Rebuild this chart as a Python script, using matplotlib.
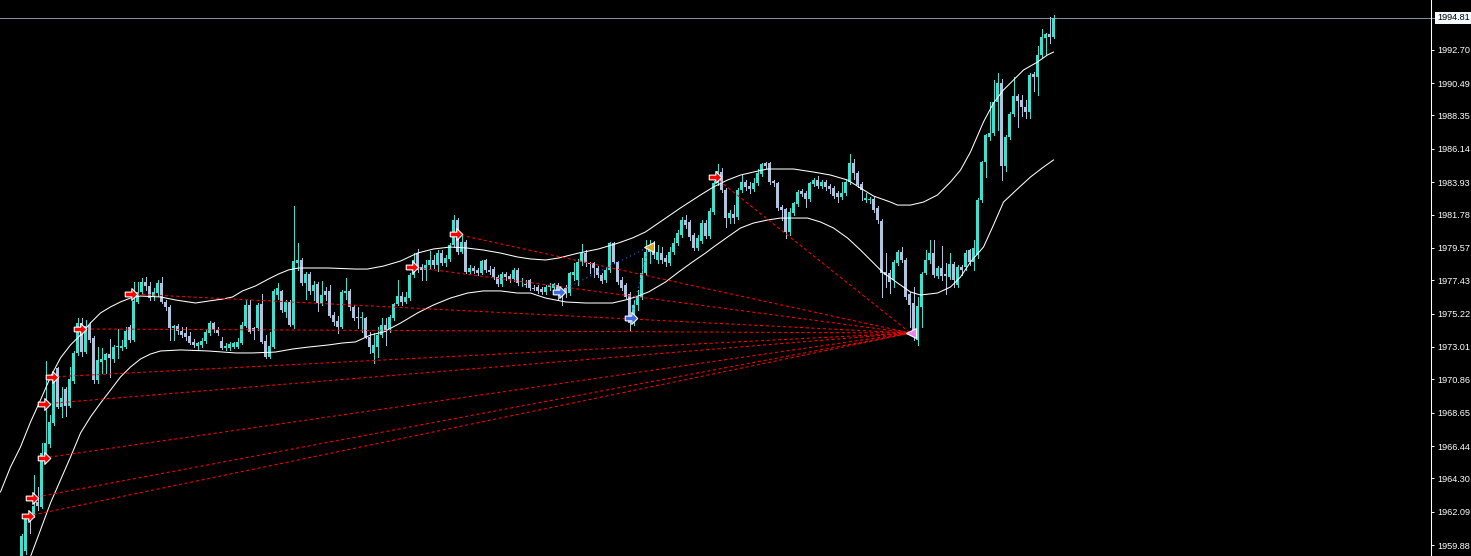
import numpy as np
import matplotlib
matplotlib.use("Agg")
import matplotlib.pyplot as plt
import matplotlib.transforms as mtransforms

# OHLC of every candle (bar index 0 = first visible candle)
opens = [
    1958.50, 1959.50, 1961.70, 1961.80, 1962.70, 1962.40, 1965.85, 1966.58, 1967.97, 1971.61,
    1969.02, 1970.22, 1969.09, 1970.75, 1972.61, 1974.60, 1972.67, 1974.46, 1973.60, 1970.82,
    1972.01, 1972.14, 1972.54, 1972.21, 1973.00, 1972.94, 1973.00, 1974.33, 1973.47, 1976.00,
    1976.65, 1977.31, 1977.05, 1976.32, 1976.58, 1977.25, 1975.99, 1975.66, 1974.27, 1974.40,
    1974.06, 1973.93, 1973.73, 1973.34, 1973.07, 1973.14, 1973.40, 1973.93, 1974.60, 1974.13,
    1973.40, 1972.94, 1972.94, 1973.00, 1973.00, 1973.27, 1974.40, 1975.79, 1974.27, 1974.27,
    1975.85, 1973.40, 1972.34, 1973.00, 1976.45, 1976.72, 1975.32, 1975.99, 1974.46, 1978.60,
    1978.77, 1977.25, 1977.84, 1976.72, 1977.18, 1975.92, 1976.72, 1976.72, 1975.12, 1974.73,
    1974.33, 1976.60, 1976.72, 1975.66, 1975.00, 1974.93, 1974.93, 1973.67, 1972.61, 1973.00,
    1973.80, 1974.46, 1974.20, 1974.93, 1975.85, 1976.38, 1975.99, 1976.25, 1977.78, 1979.23,
    1978.30, 1978.11, 1978.44, 1978.77, 1978.44, 1979.23, 1978.57, 1978.84, 1979.76, 1981.42,
    1979.30, 1979.96, 1977.97, 1978.24, 1978.10, 1977.90, 1978.77, 1978.11, 1978.17, 1977.64,
    1977.18, 1977.84, 1977.71, 1977.51, 1978.11, 1977.30, 1977.20, 1977.44, 1976.91, 1976.98,
    1976.85, 1976.65, 1976.98, 1976.90, 1977.10, 1976.50, 1976.90, 1976.58, 1977.78, 1977.44,
    1978.64, 1979.23, 1978.60, 1978.57, 1978.24, 1977.78, 1977.44, 1978.11, 1979.90, 1978.64,
    1977.44, 1977.11, 1976.52, 1974.60, 1975.79, 1976.32, 1977.91, 1979.30, 1979.56, 1978.77,
    1979.23, 1978.90, 1978.57, 1979.30, 1979.90, 1980.43, 1981.42, 1981.29, 1980.43, 1979.56,
    1980.03, 1981.22, 1980.36, 1981.95, 1983.87, 1984.60, 1983.41, 1981.55, 1981.82, 1981.62,
    1983.41, 1983.94, 1983.67, 1983.48, 1983.87, 1984.47, 1985.20, 1985.20, 1984.00, 1983.87,
    1982.28, 1982.15, 1980.63, 1981.88, 1982.48, 1983.34, 1983.21, 1982.81, 1983.81, 1984.07,
    1983.67, 1983.94, 1983.67, 1983.54, 1983.21, 1982.94, 1983.21, 1983.94, 1985.20, 1984.53,
    1983.81, 1982.75, 1982.75, 1982.81, 1982.22, 1981.35, 1977.97, 1977.91, 1977.44, 1978.57,
    1979.30, 1978.77, 1976.52, 1975.92, 1973.47, 1975.66, 1977.91, 1978.77, 1979.23, 1977.71,
    1978.24, 1977.84, 1977.64, 1978.50, 1977.11, 1978.30, 1978.30, 1979.43, 1978.64, 1979.10,
    1982.75, 1985.26, 1986.92, 1987.19, 1989.24, 1990.50, 1985.00, 1986.92, 1988.44, 1989.64,
    1989.37, 1988.91, 1988.58, 1991.10, 1990.90, 1992.36, 1993.48, 1993.75, 1993.55,
]
highs = [
    1960.60, 1961.80, 1961.87, 1964.52, 1963.70, 1966.64, 1972.08, 1968.50, 1971.28, 1971.68,
    1970.35, 1970.35, 1971.68, 1972.74, 1974.93, 1974.93, 1974.79, 1974.66, 1973.73, 1973.00,
    1972.94, 1972.61, 1973.53, 1973.14, 1974.20, 1973.47, 1974.33, 1974.46, 1977.31, 1977.31,
    1977.58, 1977.64, 1977.31, 1976.91, 1977.44, 1977.64, 1976.12, 1975.79, 1974.46, 1974.53,
    1974.33, 1974.33, 1974.00, 1973.53, 1973.34, 1973.60, 1974.20, 1974.73, 1974.66, 1974.33,
    1973.67, 1973.27, 1973.34, 1973.34, 1973.60, 1974.66, 1976.12, 1976.12, 1974.33, 1975.92,
    1976.52, 1973.80, 1974.00, 1976.85, 1977.25, 1976.78, 1976.12, 1976.12, 1982.35, 1979.90,
    1978.90, 1977.97, 1977.97, 1977.38, 1977.31, 1977.38, 1976.98, 1977.11, 1975.32, 1975.06,
    1976.78, 1977.58, 1976.85, 1975.79, 1975.66, 1975.32, 1974.99, 1974.00, 1973.93, 1974.33,
    1974.93, 1974.93, 1975.12, 1975.92, 1977.44, 1976.65, 1976.65, 1977.91, 1979.23, 1979.50,
    1978.50, 1978.77, 1979.37, 1979.10, 1979.43, 1979.43, 1979.10, 1979.90, 1981.75, 1981.55,
    1980.43, 1980.10, 1978.44, 1978.37, 1978.24, 1978.77, 1978.84, 1978.37, 1978.30, 1977.78,
    1977.97, 1977.97, 1977.84, 1978.24, 1978.24, 1977.58, 1977.44, 1977.51, 1977.11, 1977.11,
    1976.98, 1977.11, 1977.25, 1977.25, 1977.25, 1976.78, 1977.11, 1977.97, 1978.57, 1978.84,
    1979.83, 1979.43, 1978.64, 1978.64, 1978.37, 1977.91, 1978.30, 1979.96, 1979.96, 1978.70,
    1977.64, 1977.25, 1976.65, 1976.12, 1976.78, 1978.90, 1980.10, 1980.10, 1980.00, 1979.76,
    1979.63, 1979.10, 1979.63, 1980.23, 1980.76, 1981.62, 1981.75, 1981.42, 1980.56, 1980.43,
    1981.42, 1981.42, 1982.22, 1984.00, 1985.13, 1984.87, 1983.54, 1982.08, 1982.41, 1983.54,
    1984.40, 1984.07, 1983.94, 1984.20, 1984.80, 1985.20, 1985.26, 1985.26, 1984.07, 1983.94,
    1982.41, 1982.22, 1982.22, 1982.61, 1983.41, 1983.48, 1983.34, 1983.94, 1984.20, 1984.34,
    1984.07, 1984.07, 1983.81, 1983.67, 1983.34, 1983.94, 1984.07, 1985.79, 1985.46, 1984.67,
    1983.94, 1983.21, 1982.94, 1982.94, 1982.35, 1981.49, 1979.23, 1978.11, 1978.77, 1979.43,
    1979.63, 1978.90, 1976.65, 1976.98, 1976.32, 1977.97, 1979.43, 1980.10, 1980.10, 1978.37,
    1979.70, 1978.57, 1979.23, 1978.64, 1978.44, 1978.44, 1979.43, 1979.50, 1980.10, 1982.88,
    1985.30, 1987.10, 1989.24, 1990.70, 1991.16, 1990.76, 1987.05, 1988.58, 1990.90, 1989.77,
    1989.70, 1989.37, 1991.16, 1991.23, 1992.95, 1994.08, 1993.81, 1994.87, 1995.01,
]
lows = [
    1958.00, 1959.30, 1960.68, 1961.74, 1962.20, 1962.35, 1965.72, 1966.38, 1967.84, 1968.96,
    1968.37, 1968.43, 1969.02, 1970.62, 1972.47, 1972.41, 1972.61, 1973.34, 1970.62, 1970.62,
    1971.28, 1971.28, 1971.02, 1972.01, 1972.28, 1972.81, 1972.94, 1973.34, 1973.40, 1975.92,
    1976.58, 1976.78, 1976.12, 1976.12, 1976.38, 1975.92, 1975.46, 1973.47, 1973.47, 1973.87,
    1973.67, 1973.47, 1973.20, 1973.00, 1972.81, 1973.00, 1973.27, 1973.80, 1974.00, 1973.80,
    1972.87, 1972.81, 1972.81, 1972.94, 1972.94, 1973.20, 1974.33, 1973.93, 1973.53, 1974.13,
    1973.30, 1972.30, 1972.28, 1972.94, 1976.18, 1975.32, 1974.99, 1974.40, 1974.27, 1978.11,
    1977.11, 1976.18, 1976.52, 1976.12, 1975.39, 1975.79, 1976.12, 1974.99, 1974.46, 1973.93,
    1974.27, 1976.18, 1975.46, 1974.79, 1974.27, 1974.00, 1973.60, 1972.61, 1971.94, 1972.34,
    1973.67, 1973.14, 1974.00, 1974.79, 1975.79, 1975.79, 1975.92, 1976.12, 1977.64, 1977.97,
    1977.44, 1977.44, 1978.24, 1978.24, 1978.04, 1978.44, 1978.37, 1978.70, 1979.63, 1979.17,
    1979.23, 1977.91, 1977.91, 1977.91, 1977.78, 1977.84, 1977.97, 1977.84, 1977.51, 1977.05,
    1977.05, 1977.44, 1977.31, 1977.38, 1977.11, 1977.05, 1976.98, 1976.78, 1976.78, 1976.58,
    1976.52, 1976.52, 1976.78, 1976.78, 1976.12, 1975.79, 1976.32, 1976.45, 1977.44, 1977.11,
    1978.44, 1978.37, 1977.91, 1977.64, 1977.64, 1977.25, 1977.31, 1977.97, 1978.57, 1977.18,
    1976.78, 1976.25, 1974.13, 1974.46, 1975.46, 1976.18, 1977.78, 1978.57, 1978.90, 1978.57,
    1978.57, 1978.37, 1978.44, 1979.17, 1979.76, 1980.30, 1980.89, 1980.10, 1979.43, 1979.43,
    1979.90, 1980.23, 1980.23, 1981.82, 1983.74, 1983.28, 1980.96, 1981.22, 1981.22, 1981.49,
    1983.28, 1983.41, 1983.21, 1983.34, 1983.74, 1984.34, 1984.87, 1983.81, 1983.67, 1982.08,
    1981.42, 1980.23, 1980.43, 1981.75, 1982.35, 1983.01, 1982.28, 1982.68, 1983.67, 1983.54,
    1983.54, 1983.41, 1983.21, 1982.88, 1982.61, 1982.81, 1983.08, 1983.81, 1984.14, 1983.61,
    1982.75, 1982.61, 1982.55, 1981.95, 1981.22, 1976.32, 1976.98, 1976.58, 1976.98, 1978.44,
    1978.64, 1976.18, 1974.33, 1973.47, 1973.14, 1974.33, 1977.85, 1978.57, 1977.64, 1977.58,
    1977.44, 1976.52, 1977.51, 1976.98, 1976.98, 1977.78, 1978.11, 1978.44, 1978.11, 1978.90,
    1982.61, 1984.27, 1986.72, 1987.05, 1987.38, 1984.07, 1984.67, 1986.79, 1988.31, 1987.58,
    1988.31, 1988.18, 1988.18, 1989.97, 1989.70, 1992.22, 1992.36, 1993.15, 1993.48,
]
closes = [
    1960.48, 1961.67, 1961.50, 1962.47, 1962.50, 1965.98, 1966.64, 1968.03, 1970.95, 1969.02,
    1969.62, 1969.09, 1970.88, 1972.61, 1974.60, 1972.67, 1974.40, 1973.47, 1970.82, 1972.14,
    1972.21, 1972.54, 1972.28, 1973.00, 1973.07, 1973.07, 1974.06, 1973.47, 1976.05, 1976.65,
    1977.31, 1977.05, 1976.25, 1976.65, 1977.25, 1975.99, 1975.66, 1974.27, 1974.40, 1974.06,
    1973.80, 1973.67, 1973.27, 1973.14, 1973.27, 1973.40, 1974.00, 1974.60, 1974.13, 1973.93,
    1972.94, 1973.07, 1973.20, 1973.27, 1973.34, 1974.46, 1975.79, 1974.00, 1974.06, 1975.79,
    1973.34, 1972.34, 1973.07, 1976.72, 1976.91, 1975.46, 1975.99, 1974.46, 1978.70, 1978.77,
    1977.25, 1977.84, 1976.72, 1977.11, 1975.92, 1976.45, 1976.45, 1975.06, 1974.66, 1974.33,
    1976.65, 1976.72, 1975.66, 1974.93, 1974.90, 1975.00, 1973.67, 1973.00, 1973.14, 1973.80,
    1974.46, 1974.00, 1974.99, 1975.85, 1976.38, 1975.99, 1976.32, 1977.78, 1978.77, 1978.11,
    1978.11, 1978.44, 1978.77, 1978.44, 1979.23, 1978.57, 1978.90, 1979.76, 1981.42, 1979.30,
    1979.96, 1977.97, 1978.24, 1978.04, 1977.90, 1978.70, 1978.11, 1978.00, 1977.64, 1977.18,
    1977.84, 1977.64, 1977.51, 1978.11, 1977.25, 1977.38, 1977.10, 1976.91, 1976.85, 1976.72,
    1976.65, 1976.98, 1977.10, 1977.18, 1976.80, 1976.45, 1976.55, 1977.90, 1977.95, 1978.64,
    1979.23, 1978.57, 1978.50, 1978.24, 1977.78, 1977.38, 1978.11, 1979.90, 1978.64, 1977.31,
    1976.91, 1976.32, 1974.60, 1975.79, 1976.32, 1977.91, 1979.30, 1979.43, 1979.10, 1979.30,
    1978.77, 1978.64, 1979.30, 1979.90, 1980.56, 1981.42, 1981.09, 1980.30, 1979.56, 1980.23,
    1981.22, 1980.36, 1982.02, 1983.87, 1984.67, 1983.41, 1981.55, 1981.88, 1981.55, 1983.41,
    1983.94, 1983.61, 1983.48, 1983.87, 1984.53, 1985.13, 1985.00, 1983.94, 1983.87, 1982.22,
    1982.08, 1980.63, 1981.95, 1982.55, 1983.28, 1983.14, 1982.81, 1983.87, 1984.07, 1983.67,
    1983.94, 1983.61, 1983.48, 1983.01, 1982.94, 1983.21, 1983.94, 1985.20, 1984.53, 1983.74,
    1983.41, 1982.88, 1982.81, 1982.08, 1981.42, 1977.91, 1977.78, 1977.31, 1978.64, 1979.30,
    1978.77, 1976.32, 1975.79, 1974.13, 1975.72, 1977.85, 1978.77, 1979.23, 1977.78, 1978.24,
    1977.71, 1977.71, 1978.50, 1977.44, 1978.30, 1978.11, 1979.23, 1978.64, 1979.56, 1982.75,
    1985.26, 1987.05, 1987.19, 1989.24, 1990.50, 1985.00, 1986.92, 1988.44, 1989.64, 1989.31,
    1988.91, 1988.58, 1991.03, 1990.90, 1992.36, 1993.55, 1993.75, 1993.55, 1994.81,
]

# envelope bands (bar index, price)
upper_x = [-5.25, -2.75, -0.25, 2.25, 4.75, 7.25, 9.75, 12.25, 14.75, 17.25, 19.75, 22.25, 24.75,
           27.25, 29.75, 34.75, 38.5, 43.5, 46.75, 50.25, 52.75, 55.25, 58.5, 61.75, 64.25, 66.75,
           69.25, 76.75, 83.5, 86.5, 90.5, 94.75, 99, 103, 107.25, 111.5, 115.5, 119.75, 124,
           127.25, 131, 134.25, 139.25, 144.25, 149.25, 152.75, 156, 159.25, 164.75, 169.75, 173,
           176.5, 179.75, 183, 186.5, 193, 198, 202.25, 206.5, 209.75, 213, 217.25, 219, 222.25,
           225.5, 229, 232.25, 234.75, 237.25, 240.5, 243, 245.5, 248, 250.5, 254, 256.5, 258]
upper_y = [1963.40, 1965.05, 1966.38, 1968.03, 1969.49, 1971.02, 1972.28, 1973.14, 1973.80, 1974.60,
           1975.26, 1975.66, 1975.99, 1976.25, 1976.38, 1976.32, 1976.12, 1975.92, 1976.05, 1976.18,
           1976.32, 1976.72, 1977.05, 1977.51, 1977.84, 1978.11, 1978.24, 1978.24, 1978.17, 1978.17,
           1978.37, 1978.70, 1979.23, 1979.50, 1979.63, 1979.56, 1979.43, 1979.23, 1978.97, 1978.84,
           1978.77, 1978.90, 1979.23, 1979.50, 1979.90, 1980.23, 1980.63, 1981.22, 1982.22, 1983.08,
           1983.61, 1984.07, 1984.40, 1984.60, 1984.80, 1984.80, 1984.60, 1984.40, 1984.07, 1983.54,
           1983.01, 1982.61, 1982.41, 1982.41, 1982.61, 1983.08, 1983.94, 1984.73, 1985.93, 1987.92,
           1989.17, 1990.04, 1990.70, 1991.36, 1991.89, 1992.36, 1992.55]
lower_x = [1, 4.75, 7.25, 9.75, 12.25, 14.75, 17.25, 19.75, 22.25, 24.75, 27.25, 29.75, 32.25, 34.75,
           39.75, 46.75, 53.5, 57.75, 63.5, 67.75, 71.75, 76.75, 80.25, 83.5, 87.25, 90.5, 94.75, 99,
           103, 107.25, 111.5, 115.5, 119.75, 124, 127.25, 131, 136, 141, 147.75, 151, 153.5, 156.75,
           161, 164.25, 167.75, 171, 173, 176.5, 179.75, 183, 186.5, 189.75, 196.5, 199.75, 203,
           206.5, 209.75, 213, 215.5, 219, 222.25, 224.75, 229, 232.25, 234.75, 237.25, 240.5, 243,
           245.5, 249, 252.25, 255.5, 258]
lower_y = [1958.23, 1960.88, 1962.67, 1964.19, 1965.71, 1967.30, 1968.37, 1969.29, 1970.15, 1971.02,
           1971.68, 1972.21, 1972.54, 1972.74, 1972.81, 1972.74, 1972.61, 1972.61, 1972.67, 1972.87,
           1973.00, 1973.14, 1973.27, 1973.34, 1973.80, 1974.00, 1974.59, 1975.26, 1975.79, 1976.25,
           1976.58, 1976.72, 1976.72, 1976.58, 1976.58, 1976.25, 1975.99, 1975.92, 1975.92, 1976.12,
           1976.32, 1976.65, 1977.31, 1977.97, 1978.64, 1979.23, 1979.63, 1980.29, 1980.89, 1981.22,
           1981.42, 1981.55, 1981.55, 1981.29, 1980.89, 1980.23, 1979.43, 1978.57, 1977.91, 1977.25,
           1976.65, 1976.45, 1976.58, 1976.98, 1977.64, 1978.64, 1979.63, 1981.09, 1982.61, 1983.48,
           1984.27, 1984.93, 1985.40]

# arrow signals and the point their lines meet
red_x = [1.5, 2.5, 5.5, 5.5, 7.5, 14.5, 27.25, 97.5, 108.5, 173.25]
red_y = [1961.80, 1963.00, 1965.65, 1969.23, 1971.02, 1974.20, 1976.52, 1978.31, 1980.49, 1984.27]
red_target = (222.25, 1973.93)
blue_x = [134.25, 152.25]
blue_y = [1976.65, 1974.93]
blue_target = (156.75, 1979.63)

bid = 1994.81
tick_vals = [1992.70, 1990.49, 1988.35, 1986.14, 1983.93, 1981.78, 1979.57, 1977.43,
             1975.22, 1973.01, 1970.86, 1968.65, 1966.44, 1964.30, 1962.09, 1959.88]

BULL = "#40E0D0"
BEAR = "#B0C4DE"

fig = plt.figure(figsize=(14.71, 5.56), dpi=100, facecolor="black")
ax = fig.add_axes([0, 0, 1431 / 1471, 1])
ax.set_facecolor("black")

o = np.array(opens)
h = np.array(highs)
l = np.array(lows)
c = np.array(closes)
x = np.arange(len(o))
up = c >= o
cols = np.where(up, BULL, BEAR)

# candles
ax.vlines(x, l, h, colors=cols, linewidth=0.72, antialiased=False, zorder=2)
body_lo = np.minimum(o, c)
body_h = np.maximum(np.abs(c - o), 0.066)
ax.bar(x, body_h, bottom=body_lo, width=0.8, color=cols, linewidth=0,
       antialiased=False, zorder=3)

# bands
ax.plot(upper_x, upper_y, color="white", lw=0.75, zorder=4)
ax.plot(lower_x, lower_y, color="white", lw=0.75, zorder=4)

# signal lines
for sx, sy in zip(red_x, red_y):
    ax.plot([sx, red_target[0]], [sy, red_target[1]], color="red", lw=0.75,
            dashes=(3, 2.5), zorder=5)
for sx, sy in zip(blue_x, blue_y):
    ax.plot([sx, blue_target[0]], [sy, blue_target[1]], color="#4169E1", lw=0.8,
            dashes=(1, 3), zorder=5)

arrow = [(-1, -0.38), (0.05, -0.38), (0.05, -0.95), (1, 0), (0.05, 0.95),
         (0.05, 0.38), (-1, 0.38), (-1, -0.38)]
ax.plot(red_x, red_y, ls="none", marker=arrow, ms=9, mfc="red", mec="white",
        mew=0.8, zorder=6)
ax.plot(blue_x, blue_y, ls="none", marker=arrow, ms=9, mfc="#4169E1", mec="white",
        mew=0.8, zorder=6)
ax.plot([blue_target[0]], [blue_target[1]], ls="none", marker="<", ms=6.5,
        mfc="#DAA520", mec="white", mew=0.8, zorder=6)
ax.plot([red_target[0]], [red_target[1]], ls="none", marker="<", ms=6.5,
        mfc="#EE82EE", mec="white", mew=0.8, zorder=6)

# bid line
ax.axhline(bid, color="#8090a0", lw=0.75, zorder=1)

ax.set_xlim(-5.375, -5.375 + 1431 / 4)
ax.set_ylim(1959.154, 1996.0)

for s in ["left", "top", "bottom"]:
    ax.spines[s].set_visible(False)
ax.spines["right"].set_color("white")
ax.spines["right"].set_linewidth(0.75)

ax.set_xticks([])
ax.yaxis.tick_right()
ax.set_yticks(tick_vals)
ax.set_yticklabels(["%.2f" % v for v in tick_vals], fontfamily="Liberation Sans")
ax.tick_params(axis="y", colors="white", labelsize=6.6, length=2.2, width=0.7, pad=2.2)

trans = mtransforms.blended_transform_factory(ax.transAxes, ax.transData)
ax.plot([1.0, 1.004], [bid, bid], color="#8090a0", lw=0.75, transform=trans,
        clip_on=False)
ax.text(1.0042, bid, "%.2f" % bid, transform=trans, va="center", ha="left",
        fontsize=6.6, fontfamily="Liberation Sans", color="black",
        bbox=dict(boxstyle="square,pad=0.2", fc="#F2FAFF", ec="none"))

fig.savefig("out.png", dpi=100, facecolor="black")
